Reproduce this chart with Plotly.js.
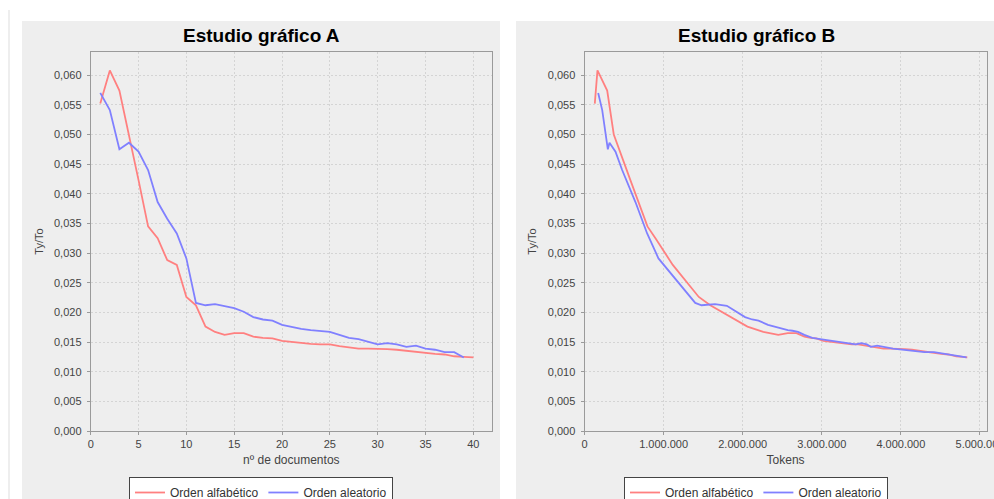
<!DOCTYPE html>
<html>
<head>
<meta charset="utf-8">
<script src="https://cdn.plot.ly/plotly-3.0.1.min.js"></script>
<style>html,body{margin:0;padding:0;background:#fff;}#chart{width:994px;height:499px;}</style>
</head>
<body>
<div id="chart"></div>
<script>
// ---- data ----
const titleA = "Estudio gráfico A";
const titleB = "Estudio gráfico B";
const seriesNames = ["Orden alfabético", "Orden aleatorio"];
const xTitleA = "nº de documentos";
const xTitleB = "Tokens";
const yTitle = "Ty/To";

const docsAlfa = [1,2,3,4,5,6,7,8,9,10,11,12,13,14,15,16,17,18,19,20,21,22,23,24,25,26,27,28,29,30,31,32,33,34,35,36,37,38,39,40];
const docsAlea = [1,2,3,4,5,6,7,8,9,10,11,12,13,14,15,16,17,18,19,20,21,22,23,24,25,26,27,28,29,30,31,32,33,34,35,36,37,38,39];

const ratioAlfa = [0.0552,0.0608,0.0574,0.0500,0.0423,0.0345,0.0325,0.0288,0.0280,0.0226,
                   0.0212,0.0176,0.0167,0.0162,0.0165,0.0165,0.0159,0.0157,0.0156,0.0152,
                   0.0150,0.0148,0.0147,0.0146,0.0146,0.0143,0.0141,0.0139,0.0139,0.0139,
                   0.0138,0.0137,0.0135,0.0133,0.0132,0.0130,0.0129,0.0126,0.0125,0.0124];
const ratioAlea = [0.0570,0.0541,0.0475,0.0486,0.0471,0.0440,0.0386,0.0358,0.0333,0.0291,
                   0.0216,0.0212,0.0214,0.0211,0.0207,0.0201,0.0192,0.0188,0.0186,0.0179,
                   0.0175,0.0172,0.0170,0.0169,0.0167,0.0162,0.0157,0.0155,0.0151,0.0146,
                   0.0148,0.0146,0.0142,0.0144,0.0139,0.0137,0.0133,0.0133,0.0124];

const tokensAlfa = [130000,164000,287000,370000,580000,796000,897000,1078000,1116000,1445000,
                    1590000,2060000,2260000,2450000,2570000,2680000,2780000,2860000,2930000,3020000,
                    3120000,3220000,3300000,3380000,3460000,3580000,3680000,3780000,3870000,3960000,
                    4050000,4140000,4230000,4330000,4420000,4510000,4600000,4700000,4780000,4840000];
const tokensAlea = [173000,224000,295000,316000,392000,476000,644000,720000,792000,935000,
                    1400000,1480000,1650000,1800000,1850000,1920000,2030000,2120000,2200000,2320000,
                    2420000,2500000,2570000,2630000,2700000,2780000,2880000,2980000,3200000,3430000,
                    3500000,3570000,3620000,3700000,3900000,4050000,4300000,4420000,4830000];

// ---- styles ----
const RED = "rgb(255,128,128)";
const BLUE = "rgb(128,128,255)";
const FONT = "Liberation Sans, Arial, sans-serif";
const W = 994, H = 499;
const px = v => v / W;
const py = v => (H - v) / H;

const traces = [
  {x: docsAlfa, y: ratioAlfa, xaxis: "x", yaxis: "y", name: seriesNames[0], mode: "lines",
   line: {color: RED, width: 1.8}, legend: "legend"},
  {x: docsAlea, y: ratioAlea, xaxis: "x", yaxis: "y", name: seriesNames[1], mode: "lines",
   line: {color: BLUE, width: 1.8}, legend: "legend"},
  {x: tokensAlfa, y: ratioAlfa, xaxis: "x2", yaxis: "y2", name: seriesNames[0], mode: "lines",
   line: {color: RED, width: 1.8}, legend: "legend2"},
  {x: tokensAlea, y: ratioAlea, xaxis: "x2", yaxis: "y2", name: seriesNames[1], mode: "lines",
   line: {color: BLUE, width: 1.8}, legend: "legend2"}
];

const axisCommon = {
  showline: true, mirror: true, linecolor: "#9a9a9a", linewidth: 1,
  ticks: "outside", ticklen: 3, tickcolor: "#9a9a9a",
  showgrid: true, gridcolor: "#d4d4d4", griddash: "2px,2px", gridwidth: 1,
  zeroline: false, tickfont: {family: FONT, size: 11, color: "#444"},
  automargin: false
};

function ax(extra) { return Object.assign({}, JSON.parse(JSON.stringify(axisCommon)), extra); }

const yDom = [py(431), py(52)];

const legendCommon = {
  orientation: "h", yanchor: "top", xanchor: "center",
  bgcolor: "#ffffff", bordercolor: "#444", borderwidth: 1,
  font: {family: FONT, size: 12, color: "#333"}, itemwidth: 30, tracegroupgap: 0
};

const layout = {
  width: W, height: H,
  margin: {l: 0, r: 0, t: 0, b: 0, autoexpand: false},
  paper_bgcolor: "#ffffff", plot_bgcolor: "#ffffff",
  separators: ",.",
  showlegend: true,
  xaxis: ax({domain: [px(90.7), px(492)], range: [0, 41.95], dtick: 5, tick0: 0,
             title: {text: xTitleA, font: {family: FONT, size: 12, color: "#444"}, standoff: 6}, anchor: "y"}),
  yaxis: ax({domain: yDom, range: [0, 0.0639], dtick: 0.005, tick0: 0, tickformat: ".3f",
             ticklabelstandoff: 3,
             title: {text: yTitle, font: {family: FONT, size: 11, color: "#444"}, standoff: 8}, anchor: "x"}),
  xaxis2: ax({domain: [px(584.5), px(986.7)], range: [0, 5.085e6], dtick: 1e6, tick0: 0, tickformat: ",d",
              ticklabeloverflow: "allow",
              title: {text: xTitleB, font: {family: FONT, size: 12, color: "#444"}, standoff: 6}, anchor: "y2"}),
  yaxis2: ax({domain: yDom, range: [0, 0.0639], dtick: 0.005, tick0: 0, tickformat: ".3f",
              ticklabelstandoff: 3,
              title: {text: yTitle, font: {family: FONT, size: 11, color: "#444"}, standoff: 8}, anchor: "x2"}),
  legend: Object.assign({}, legendCommon, {x: px(261), y: py(477)}),
  legend2: Object.assign({}, legendCommon, {x: px(756), y: py(477)}),
  shapes: [
    {type: "rect", xref: "paper", yref: "paper", x0: px(22), x1: px(500), y0: 0, y1: py(21),
     fillcolor: "#eeeeee", line: {width: 0}, layer: "below"},
    {type: "rect", xref: "paper", yref: "paper", x0: px(516), x1: 1, y0: 0, y1: py(21),
     fillcolor: "#eeeeee", line: {width: 0}, layer: "below"},
    {type: "line", xref: "paper", yref: "paper", x0: px(9), x1: px(9), y0: 0, y1: py(10),
     line: {color: "#dddddd", width: 1}, layer: "below"}
  ],
  annotations: [
    {text: "<b>" + titleA + "</b>", xref: "paper", yref: "paper", x: px(261), y: py(36),
     xanchor: "center", yanchor: "middle", showarrow: false,
     font: {family: FONT, size: 19, color: "#000"}},
    {text: "<b>" + titleB + "</b>", xref: "paper", yref: "paper", x: px(756), y: py(36),
     xanchor: "center", yanchor: "middle", showarrow: false,
     font: {family: FONT, size: 19, color: "#000"}}
  ]
};

Plotly.newPlot("chart", traces, layout, {staticPlot: true, displayModeBar: false});
</script>
</body>
</html>
